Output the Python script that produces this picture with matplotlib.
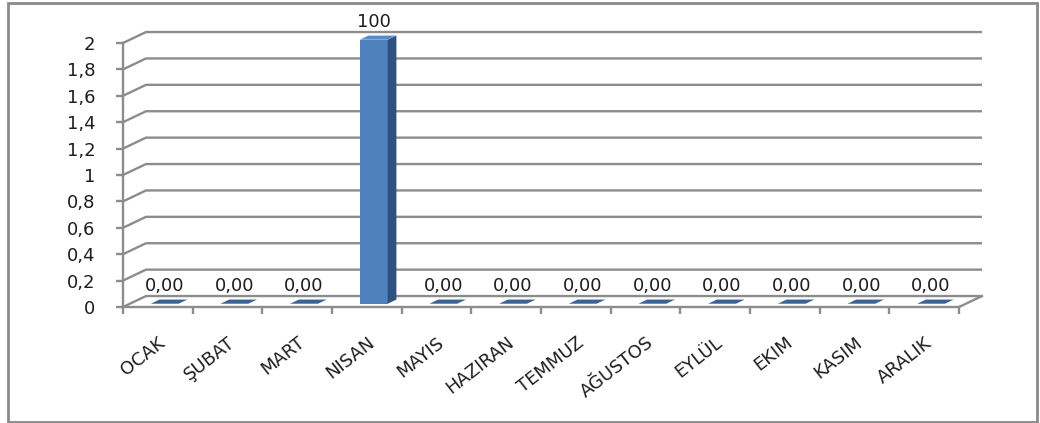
import matplotlib.pyplot as plt
from matplotlib.patches import Polygon, Rectangle

months = ['OCAK', 'ŞUBAT', 'MART', 'NISAN', 'MAYIS', 'HAZIRAN',
          'TEMMUZ', 'AĞUSTOS', 'EYLÜL', 'EKIM', 'KASIM', 'ARALIK']
values = [0, 0, 0, 100, 0, 0, 0, 0, 0, 0, 0, 0]
yticks = [0, 0.2, 0.4, 0.6, 0.8, 1, 1.2, 1.4, 1.6, 1.8, 2]
ytick_labels = ['0', '0,2', '0,4', '0,6', '0,8', '1', '1,2', '1,4', '1,6', '1,8', '2']

ymax = 2
n = len(months)
# depth of the 3d box in data units
DX, DY = 0.33, 0.083
f0, f1 = 0.30, 0.68
bw = 0.40

grid_c = '#8c8c8c'
front_c = '#4f81bd'
side_c = '#2f5180'
top_c = '#5a8ccb'
flat_c = '#3b6396'
txt_c = '#1e1e1e'

plt.rcParams['font.family'] = ['DejaVu Sans']

fig = plt.figure(figsize=(10.4, 4.23), dpi=100)
fig.patches.append(Rectangle((8 / 1040, 1 / 423), 1029 / 1040, 419 / 423,
                             transform=fig.transFigure, fill=False,
                             edgecolor='#8a8a8a', linewidth=2))

ax = fig.add_axes([123 / 1040, 1 - 307 / 423, 836 / 1040, 264 / 423])
ax.set_xlim(0, n)
ax.set_ylim(0, ymax)
ax.patch.set_visible(False)

for s in ['top', 'right']:
    ax.spines[s].set_visible(False)
for s in ['left', 'bottom']:
    ax.spines[s].set_color(grid_c)
    ax.spines[s].set_linewidth(1.7)

# side wall diagonals and back wall grid lines
for y in yticks:
    ax.plot([0, DX, n + DX], [y, y + DY, y + DY], color=grid_c, lw=1.7,
            clip_on=False, zorder=1, solid_capstyle='butt')
ax.plot([n, n + DX], [0, DY], color=grid_c, lw=1.7, clip_on=False, zorder=1)

# ticks and labels
ax.set_yticks(yticks)
ax.set_yticklabels(ytick_labels)
ax.tick_params(axis='y', length=5, width=1.7, color=grid_c, pad=15,
               labelsize=13, labelcolor=txt_c)
ax.set_xticks(range(n + 1), minor=True)
ax.set_xticks([i + 0.5 for i in range(n)])
ax.set_xticklabels(months, rotation=38, ha='right', rotation_mode='anchor')
ax.tick_params(axis='x', which='major', length=0, pad=19, labelsize=13,
               labelcolor=txt_c)
ax.tick_params(axis='x', which='minor', length=5, width=1.7, color=grid_c)


def fmt(v):
    if v < 1:
        return f'{v:.2f}'.replace('.', ',')
    return f'{v:.0f}'


for i, v in enumerate(values):
    h = min(v, ymax)
    xl = i + 0.5 - bw / 2
    xr = i + 0.5 + bw / 2
    a0, b0 = f0 * DX, f0 * DY
    a1, b1 = f1 * DX, f1 * DY
    if h > 0:
        ax.add_patch(Polygon([(xl + a0, b0), (xr + a0, b0), (xr + a0, h + b0),
                              (xl + a0, h + b0)], closed=True, facecolor=front_c,
                             edgecolor='none', zorder=3, clip_on=False))
        ax.add_patch(Polygon([(xr + a0, b0), (xr + a1, b1), (xr + a1, h + b1),
                              (xr + a0, h + b0)], closed=True, facecolor=side_c,
                             edgecolor='none', zorder=3, clip_on=False))
        ax.add_patch(Polygon([(xl + a0, h + b0), (xr + a0, h + b0), (xr + a1, h + b1),
                              (xl + a1, h + b1)], closed=True, facecolor=top_c,
                             edgecolor='none', zorder=3, clip_on=False))
    else:
        ax.add_patch(Polygon([(xl + a0, b0), (xr + a0, b0), (xr + a1, b1),
                              (xl + a1, b1)], closed=True, facecolor=flat_c,
                             edgecolor='none', zorder=3, clip_on=False))
    ax.annotate(fmt(v), (i + 0.5 + a0, h + b1), xytext=(0, 6),
                textcoords='offset points', ha='center', va='baseline',
                fontsize=13, color=txt_c, annotation_clip=False)

fig.savefig('out.png', dpi=100)
